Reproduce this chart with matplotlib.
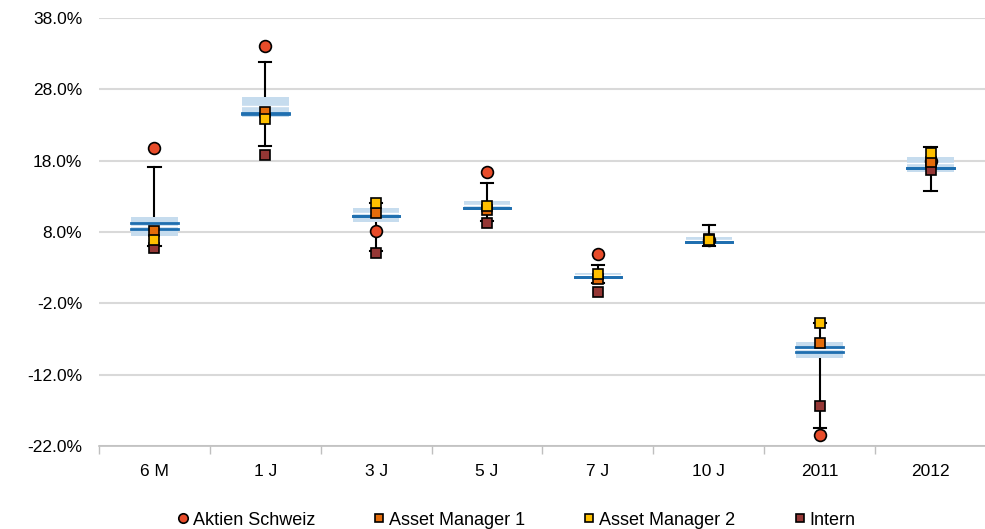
import matplotlib
matplotlib.use("Agg")
import matplotlib.pyplot as plt
import numpy as np

plt.rcParams['font.family'] = ['Liberation Sans', 'DejaVu Sans']

categories = ['6 M', '1 J', '3 J', '5 J', '7 J', '10 J', '2011', '2012']

# Verteilung (Whisker, Box, Linien)
whisk_lo = [6.0, 20.1, 5.3, 9.6, 0.9, 6.1, -19.5, 13.8]
whisk_hi = [17.1, 31.8, 12.0, 14.9, 3.3, 9.0, -4.7, 19.9]
box_lo = [7.5, 24.1, 9.4, 11.1, 1.6, 6.35, -9.6, 16.4]
box_hi = [10.1, 26.9, 11.4, 12.4, 2.3, 7.3, -7.4, 18.5]
split = [8.8, 25.7, 10.7, 11.8, 2.0, 6.9, -8.45, 17.6]
line_a = [9.2, 24.7, 10.3, 11.3, 1.7, 6.6, -8.1, 17.0]
line_b = [8.4, 24.5, 10.3, 11.3, 1.7, 6.6, -8.8, 17.0]

# Portfolios
aktien = [19.8, 34.1, 8.2, 16.4, 4.95, 6.9, -20.5, 17.9]
am1 = [8.2, 24.8, 10.7, 11.1, 1.4, 7.0, -7.5, 17.8]
am2 = [6.9, 23.9, 12.1, 11.7, 2.1, 6.9, -4.7, 19.1]
intern = [5.8, 18.8, 5.1, 9.3, -0.4, 6.8, -16.4, 16.7]

x = np.arange(len(categories))
bw = 0.42
cap = 0.055

fig = plt.figure(figsize=(9.85, 5.29), dpi=100)
ax = fig.add_axes([0.1005, 0.157, 0.9005, 0.809])

for i in x:
    ax.plot([i, i], [whisk_lo[i], whisk_hi[i]], color='black', lw=1.5, zorder=2)
    ax.plot([i - cap, i + cap], [whisk_lo[i]] * 2, color='black', lw=1.5, zorder=2)
    ax.plot([i - cap, i + cap], [whisk_hi[i]] * 2, color='black', lw=1.5, zorder=2)
    ax.add_patch(plt.Rectangle((i - bw / 2, box_lo[i]), bw, box_hi[i] - box_lo[i],
                               facecolor='#c6dcee', edgecolor='none', zorder=3))
    ax.plot([i - bw / 2, i + bw / 2], [split[i]] * 2, color='white', lw=1.0, zorder=3.5)
    ax.plot([i - bw / 2, i + bw / 2], [line_a[i]] * 2, color='#1f6fb0', lw=2.0, zorder=4)
    ax.plot([i - bw / 2, i + bw / 2], [line_b[i]] * 2, color='#1f6fb0', lw=2.0, zorder=4)

h1, = ax.plot(x, aktien, 'o', ms=8.5, mfc='#e84c2a', mec='black', mew=1.2, ls='none', zorder=5)
h4, = ax.plot(x, intern, 's', ms=7, mfc='#953735', mec='black', mew=1.2, ls='none', zorder=6)
h2, = ax.plot(x, am1, 's', ms=7, mfc='#e46c0a', mec='black', mew=1.2, ls='none', zorder=7)
h3, = ax.plot(x, am2, 's', ms=7, mfc='#ffc000', mec='black', mew=1.2, ls='none', zorder=8)

ax.set_xlim(-0.5, len(categories) - 0.5)
ax.set_ylim(-22, 38)
ax.set_yticks(np.arange(-22, 39, 10))
ax.set_yticklabels([f'{v:.1f}%' for v in np.arange(-22, 39, 10)])
ax.yaxis.grid(True, color='#d9d9d9', lw=1.5)
ax.set_axisbelow(True)
ax.tick_params(axis='y', length=0, labelsize=12.5, pad=12)

ax.set_xticks(x)
ax.set_xticklabels(categories)
ax.tick_params(axis='x', length=0, labelsize=12.5, pad=13)
ax.set_xticks(np.arange(-0.5, len(categories), 1), minor=True)
ax.tick_params(axis='x', which='minor', length=6, color='#bfbfbf', width=1)

for s in ['left', 'right', 'top']:
    ax.spines[s].set_visible(False)
ax.spines['bottom'].set_color('#bfbfbf')
ax.spines['bottom'].set_linewidth(1.2)

fig.legend([h1, h2, h3, h4], ['Aktien Schweiz', 'Asset Manager 1', 'Asset Manager 2', 'Intern'],
           loc='lower center', bbox_to_anchor=(0.522, -0.03), ncol=4, frameon=False,
           fontsize=13, handletextpad=0.0, columnspacing=3.0, handlelength=1.1,
           markerscale=0.8)

fig.savefig('out.png', dpi=100)
